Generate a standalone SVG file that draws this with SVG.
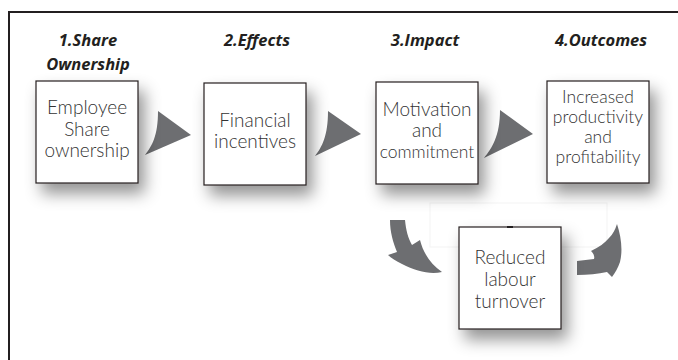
<svg xmlns="http://www.w3.org/2000/svg" width="678" height="360" viewBox="0 0 678 360">
<style>
.hdr{font-family:"Open Sans","Liberation Sans",sans-serif;font-weight:700;font-style:italic;font-size:16.5px;fill:#231f20;text-anchor:middle}
.box{fill:#fff;stroke:#231f20;stroke-width:1.2}
.txt{font-family:Lato,"Open Sans","Liberation Sans",sans-serif;font-weight:300;font-size:19px;fill:#333;text-anchor:middle}
.sm{font-size:17.5px}
.arr{fill:#6d6e71}
</style>
<defs>
<filter id="sh" x="-40%" y="-40%" width="190%" height="190%">
<feDropShadow dx="6" dy="10" stdDeviation="8" flood-color="#000" flood-opacity="0.42"/>
</filter>
</defs>
<rect width="678" height="360" fill="#fff"/>
<path d="M9,360 V12 H678" fill="none" stroke="#231f20" stroke-width="2"/>
<rect x="430" y="203" width="177" height="44" fill="none" stroke="#f3f3f3" stroke-width="1"/>
<g id="headers">
<text class="hdr" x="88" y="46">1.Share</text>
<text class="hdr" x="88" y="70">Ownership</text>
<text class="hdr" x="257" y="46">2.Effects</text>
<text class="hdr" x="425" y="46">3.Impact</text>
<text class="hdr" x="601" y="46">4.Outcomes</text>
</g>
<g id="connectors">
<path class="arr" d="M158,111 L191,135 L145,155 C152,146 158,136 158,111 Z"/>
<path class="arr" d="M328,111 L361,134 L315,156 C322,147 328,136 328,111 Z"/>
<path class="arr" d="M500,110 L533,134 L484,158 C492,148 500,136 500,110 Z"/>
<path class="arr" d="M390,220 L405,220 C406,230 408,238 412,245 L420,240 C423,252 430,264 442,272 C430,275 416,271 402,264 C396,261 391,258 388,255 L397,252 C393,242 390,232 390,220 Z"/>
<path class="arr" d="M577,261 L594,259 C595,256 593,253 591,251 C599,247 605,243 609,238 C613,234 615,230 617,224 C621,236 623,250 620,262 C618,268 615,273 612,277 L607,272 C598,274 588,275 577,275 Z"/>
</g>
<g id="n1">
<rect class="box" x="36" y="81" width="102" height="102" filter="url(#sh)"/>
<text class="txt" x="87" y="114">Employee</text>
<text class="txt" x="87" y="136">Share</text>
<text class="txt" x="87" y="157">ownership</text>
</g>
<g id="n2">
<rect class="box" x="204" y="83" width="102" height="102" filter="url(#sh)"/>
<text class="txt" x="255" y="127">Financial</text>
<text class="txt" x="255" y="148">incentives</text>
</g>
<g id="n3">
<rect class="box" x="376" y="82" width="102" height="102" filter="url(#sh)"/>
<text class="txt" x="427" y="116">Motivation</text>
<text class="txt" x="427" y="137">and</text>
<text class="txt sm" x="427" y="158">commitment</text>
</g>
<g id="n4">
<rect class="box" x="547" y="81" width="102" height="102" filter="url(#sh)"/>
<text class="txt sm" x="598" y="103">Increased</text>
<text class="txt sm" x="598" y="123">productivity</text>
<text class="txt sm" x="598" y="143">and</text>
<text class="txt sm" x="598" y="163">profitability</text>
</g>
<g id="n5">
<rect class="box" x="459" y="227" width="102" height="102" filter="url(#sh)"/>
<rect x="507" y="226" width="6" height="2" fill="#231f20"/>
<text class="txt" x="510" y="264">Reduced</text>
<text class="txt" x="510" y="286">labour</text>
<text class="txt" x="510" y="308">turnover</text>
</g>
</svg>
